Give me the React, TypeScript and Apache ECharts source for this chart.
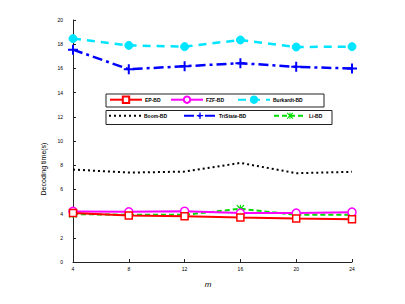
import React, { useEffect, useRef } from "react";
import * as echarts from "echarts";

const mValues = [4, 8, 12, 16, 20, 24];
const yTicks = [0, 2, 4, 6, 8, 10, 12, 14, 16, 18, 20];
const epBD = [4.04, 3.85, 3.79, 3.68, 3.6, 3.54];
const fzfBD = [4.18, 4.15, 4.2, 4.04, 4.04, 4.12];
const burkardtBD = [18.46, 17.9, 17.8, 18.35, 17.77, 17.8];
const boomBD = [7.64, 7.39, 7.47, 8.19, 7.34, 7.45];
const triStateBD = [17.55, 15.93, 16.18, 16.43, 16.13, 15.99];
const liBD = [3.96, 3.9, 3.9, 4.4, 3.9, 3.9];

const seriesNames = ["EP-BD", "FZF-BD", "Burkardt-BD", "Boom-BD", "TriState-BD", "Li-BD"];

const plusPath = "path://M4,0 L6,0 L6,4 L10,4 L10,6 L6,6 L6,10 L4,10 L4,6 L0,6 L0,4 L4,4 Z";
const asteriskPath =
  "path://M1,0 L5,3.6 L9,0 L10,1 L6.4,5 L10,9 L9,10 L5,6.4 L1,10 L0,9 L3.6,5 L0,1 Z M4.3,0 L5.7,0 L5.7,10 L4.3,10 Z";

function pairs(vals: number[]) {
  return mValues.map((m, i) => [m, vals[i]]);
}

export default function App() {
  const ref = useRef<HTMLDivElement>(null);
  useEffect(() => {
    if (!ref.current) return;
    const chart = echarts.init(ref.current, undefined, { renderer: "svg" });
    const legendText = {
      fontSize: 5,
      fontWeight: "bold" as const,
      color: "#000",
      fontFamily: "Liberation Sans, Arial, sans-serif",
      padding: [-3, 0, 0, -2],
    };
    const legendAt = (name: string, left: number, top: number, hideSymbol = false) => ({
      data: [hideSymbol ? { name, itemStyle: { opacity: 0 } } : name],
      left,
      top,
      padding: 0,
      itemWidth: 32,
      itemHeight: 8,
      itemGap: 0,
      textStyle: legendText,
      selectedMode: false,
    });
    chart.setOption({
      animation: false,
      backgroundColor: "#fff",
      grid: { left: 73, right: 53, top: 20, bottom: 42, containLabel: false },
      xAxis: {
        type: "value",
        min: 4,
        max: 24,
        interval: 4,
        axisLine: { show: true, lineStyle: { color: "#222", width: 1 } },
        axisTick: { show: true, inside: true, length: 3, lineStyle: { color: "#222" } },
        axisLabel: { fontSize: 5, color: "#000", margin: 4, fontFamily: "Liberation Sans, Arial, sans-serif" },
        splitLine: { show: false },
      },
      yAxis: {
        type: "value",
        min: 0,
        max: 20,
        interval: 2,
        axisLine: { show: true, lineStyle: { color: "#222", width: 1 } },
        axisTick: { show: true, inside: true, length: 3, lineStyle: { color: "#222" } },
        axisLabel: {
          fontSize: 5,
          color: "#000",
          margin: 10,
          fontFamily: "Liberation Sans, Arial, sans-serif",
          formatter: (v: number) => (yTicks.includes(v) ? String(v) : ""),
        },
        splitLine: { show: false },
      },
      legend: [
        legendAt(seriesNames[0], 109, 95.5),
        legendAt(seriesNames[1], 170, 95.5),
        legendAt(seriesNames[2], 237, 95.5),
        legendAt(seriesNames[3], 108, 112.5, true),
        legendAt(seriesNames[4], 183, 112.5),
        legendAt(seriesNames[5], 273, 112.5),
      ],
      graphic: [
        {
          type: "rect",
          z: -1,
          shape: { x: 106, y: 94, width: 218, height: 13 },
          style: { fill: "#fff", stroke: "#222", lineWidth: 1 },
        },
        {
          type: "rect",
          z: -1,
          shape: { x: 106, y: 110.5, width: 226, height: 14 },
          style: { fill: "#fff", stroke: "#222", lineWidth: 1 },
        },
        {
          type: "text",
          x: 43,
          y: 169,
          rotation: Math.PI / 2,
          style: {
            text: "Decoding time(s)",
            fontSize: 7,
            fill: "#000",
            align: "center",
            verticalAlign: "middle",
            fontFamily: "Liberation Sans, Arial, sans-serif",
          },
        },
        {
          type: "text",
          x: 208,
          y: 284,
          style: {
            text: "m",
            fontSize: 8,
            fontStyle: "italic",
            fill: "#000",
            align: "center",
            verticalAlign: "middle",
            fontFamily: "Liberation Sans, Arial, sans-serif",
          },
        },
      ],
      series: [
        {
          name: seriesNames[0],
          type: "line",
          data: pairs(epBD),
          symbol: "rect",
          symbolSize: 7,
          itemStyle: { color: "#fff", borderColor: "#ff0000", borderWidth: 1.5 },
          lineStyle: { color: "#ff0000", width: 2 },
          z: 6,
        },
        {
          name: seriesNames[1],
          type: "line",
          data: pairs(fzfBD),
          symbol: "circle",
          symbolSize: 8,
          itemStyle: { color: "#fff", borderColor: "#ff00ff", borderWidth: 1.5 },
          lineStyle: { color: "#ff00ff", width: 2 },
          z: 5,
        },
        {
          name: seriesNames[2],
          type: "line",
          data: pairs(burkardtBD),
          symbol: "circle",
          symbolSize: 8,
          itemStyle: { color: "#00e5ff", borderColor: "#00e5ff", borderWidth: 1 },
          lineStyle: { color: "#00e5ff", width: 2.5, type: [8, 6] },
        },
        {
          name: seriesNames[3],
          type: "line",
          data: pairs(boomBD),
          symbol: "none",
          itemStyle: { color: "#000" },
          lineStyle: { color: "#000", width: 2, type: [2, 3] },
        },
        {
          name: seriesNames[4],
          type: "line",
          data: pairs(triStateBD),
          symbol: plusPath,
          symbolSize: 10,
          itemStyle: { color: "#0000ff" },
          lineStyle: { color: "#0000ff", width: 2.5, type: [10, 4, 3, 4] },
        },
        {
          name: seriesNames[5],
          type: "line",
          data: pairs(liBD),
          symbol: asteriskPath,
          symbolSize: 8,
          itemStyle: { color: "#00dd00" },
          lineStyle: { color: "#00dd00", width: 2, type: [5, 3] },
          z: 4,
        },
      ],
    });
    return () => chart.dispose();
  }, []);
  return <div ref={ref} style={{ width: 405, height: 304, position: "absolute", left: 0, top: 0 }} />;
}
